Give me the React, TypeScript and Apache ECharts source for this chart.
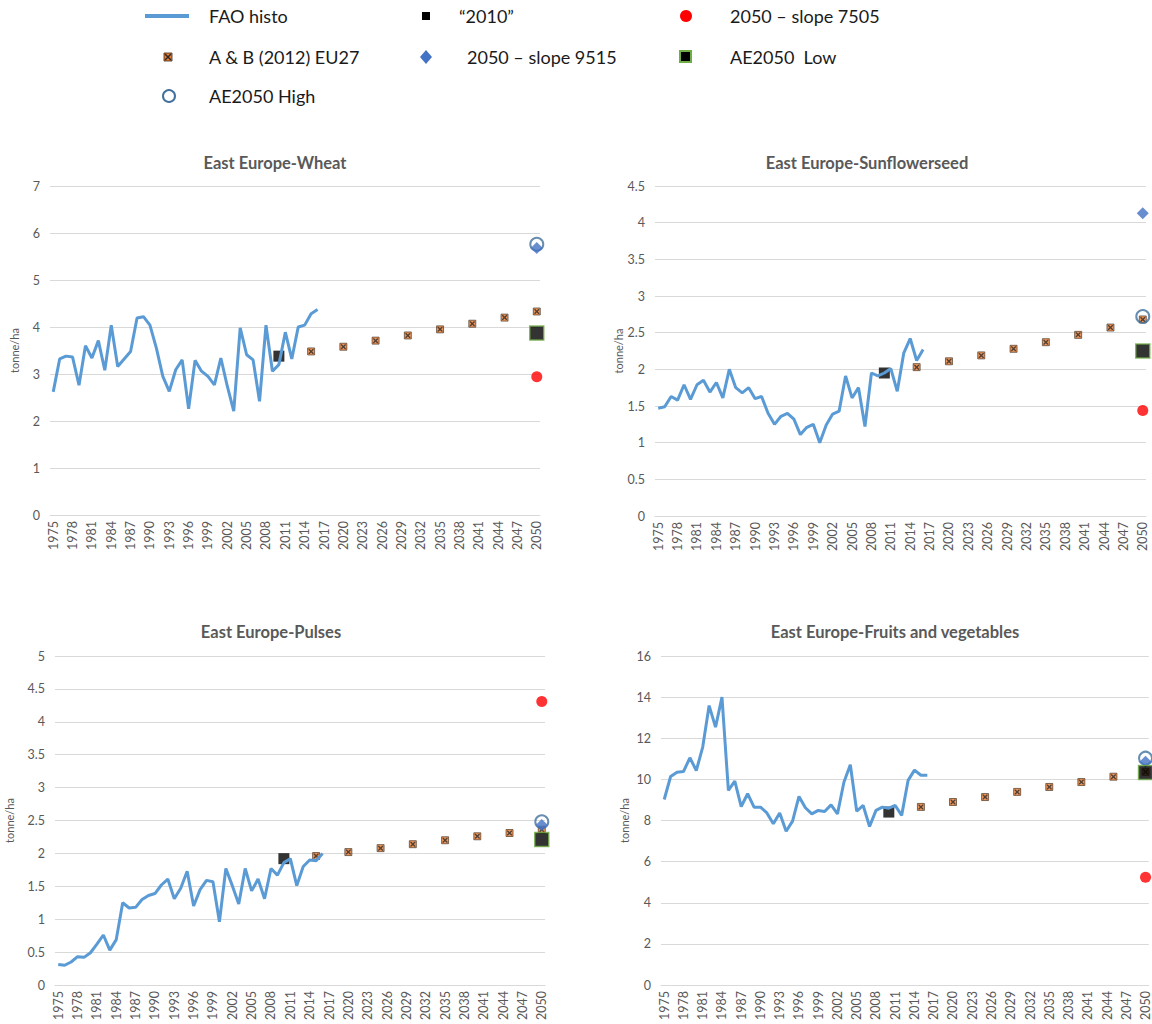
import React, { useEffect, useRef } from "react";
import * as echarts from "echarts";

// ---------- DATA ----------
const years: string[] = [];
for (let y = 1975; y <= 2050; y++) years.push(String(y));

const histoStart = 1975;
const abYears = [2015, 2020, 2025, 2030, 2035, 2040, 2045, 2050];

const wheatHisto = [2.62, 3.32, 3.38, 3.36, 2.76, 3.6, 3.34, 3.71, 3.08, 4.04, 3.16, 3.32, 3.48, 4.19, 4.22, 4.04, 3.55, 2.95, 2.63, 3.09, 3.3, 2.26, 3.29, 3.06, 2.95, 2.77, 3.34, 2.74, 2.21, 3.98, 3.41, 3.3, 2.42, 4.04, 3.06, 3.2, 3.89, 3.32, 4.0, 4.04, 4.28, 4.37];
const sunflowerHisto = [1.47, 1.49, 1.63, 1.58, 1.79, 1.59, 1.79, 1.85, 1.69, 1.82, 1.61, 2.0, 1.75, 1.68, 1.75, 1.6, 1.63, 1.4, 1.25, 1.36, 1.4, 1.32, 1.11, 1.21, 1.25, 1.0, 1.24, 1.39, 1.43, 1.91, 1.61, 1.75, 1.22, 1.95, 1.91, 1.95, 2.01, 1.7, 2.22, 2.42, 2.12, 2.27];
const pulsesHisto = [0.31, 0.3, 0.35, 0.43, 0.42, 0.49, 0.62, 0.76, 0.53, 0.69, 1.25, 1.17, 1.18, 1.3, 1.36, 1.39, 1.52, 1.61, 1.31, 1.47, 1.73, 1.2, 1.45, 1.59, 1.57, 0.96, 1.77, 1.51, 1.23, 1.77, 1.43, 1.61, 1.31, 1.77, 1.67, 1.86, 1.92, 1.51, 1.8, 1.9, 1.89, 2.0];
const fruitsHisto = [9.02, 10.14, 10.35, 10.38, 11.05, 10.43, 11.57, 13.59, 12.54, 14.0, 9.46, 9.91, 8.68, 9.3, 8.65, 8.65, 8.37, 7.84, 8.37, 7.48, 7.97, 9.17, 8.62, 8.32, 8.49, 8.44, 8.76, 8.32, 9.86, 10.71, 8.45, 8.73, 7.71, 8.49, 8.65, 8.6, 8.73, 8.25, 9.95, 10.45, 10.2, 10.2];

const wheatAB = [3.48, 3.58, 3.71, 3.82, 3.95, 4.07, 4.2, 4.33];
const sunflowerAB = [2.03, 2.11, 2.19, 2.28, 2.37, 2.47, 2.57, 2.68];
const pulsesAB = [1.96, 2.02, 2.08, 2.14, 2.2, 2.26, 2.31, 2.36];
const fruitsAB = [8.66, 8.9, 9.14, 9.39, 9.63, 9.87, 10.13, 10.37];

// "2010", slope 7505, slope 9515, AE2050 Low, AE2050 High  (wheat, sunflower, pulses, fruits)
const val2010 = [3.38, 1.95, 1.92, 8.41];
const slope7505 = [2.94, 1.44, 4.31, 5.24];
const slope9515 = [5.68, 4.13, 2.43, 10.86];
const ae2050Low = [3.87, 2.25, 2.21, 10.33];
const ae2050High = [5.76, 2.72, 2.48, 11.03];

const titles = ["East Europe-Wheat", "East Europe-Sunflowerseed", "East Europe-Pulses", "East Europe-Fruits and vegetables"];
const yMax = [7, 4.5, 5, 16];
const yInterval = [1, 0.5, 0.5, 2];
const histos = [wheatHisto, sunflowerHisto, pulsesHisto, fruitsHisto];
const abs = [wheatAB, sunflowerAB, pulsesAB, fruitsAB];

const legendNames = ["FAO histo", "\u201C2010\u201D", "2050 \u2013 slope 7505", "A & B (2012) EU27", "2050 \u2013 slope 9515", "AE2050  Low", "AE2050 High"];

// ---------- LAYOUT ----------
const panels = [
  { left: 50, width: 490, top: 186, height: 329, titleX: 275, titleY: 163, nameGap: 30 },
  { left: 655, width: 491, top: 186, height: 330, titleX: 867, titleY: 163, nameGap: 30 },
  { left: 55, width: 490, top: 656, height: 329, titleX: 271, titleY: 632, nameGap: 40 },
  { left: 661, width: 491, top: 656, height: 329, titleX: 895, titleY: 632, nameGap: 31 },
];

const FONT = "Lato, 'Open Sans', sans-serif";
const GRAY = "#595959";
const X_PATH = "path://M0,0L2,0L5,3L8,0L10,0L10,2L7,5L10,8L10,10L8,10L5,7L2,10L0,10L0,8L3,5L0,2Z";

const idx = (y: number) => years.indexOf(String(y));

function buildOption() {
  const grid: any[] = [];
  const xAxis: any[] = [];
  const yAxis: any[] = [];
  const series: any[] = [];
  const graphic: any[] = [];

  panels.forEach((p, i) => {
    grid.push({ left: p.left, width: p.width, top: p.top, height: p.height, containLabel: false });
    xAxis.push({
      type: "category",
      gridIndex: i,
      data: years,
      boundaryGap: true,
      axisLine: { show: true, lineStyle: { color: "#D9D9D9", width: 1 } },
      axisTick: { show: false },
      axisLabel: { interval: 2, rotate: 90, fontSize: 12.5, color: GRAY, fontFamily: FONT, margin: 6 },
      splitLine: { show: false },
    });
    yAxis.push({
      type: "value",
      gridIndex: i,
      min: 0,
      max: yMax[i],
      interval: yInterval[i],
      name: "tonne/ha",
      nameLocation: "middle",
      nameGap: p.nameGap,
      nameTextStyle: { fontSize: 11, color: GRAY, fontFamily: FONT },
      axisLine: { show: false },
      axisTick: { show: false },
      axisLabel: { fontSize: 12.5, color: GRAY, fontFamily: FONT, margin: 10 },
      splitLine: { show: true, lineStyle: { color: "#D9D9D9", width: 1 } },
    });

    const histoData = histos[i].map((v, k) => [idx(histoStart + k), v]);
    const abData = abs[i].map((v, k) => [idx(abYears[k]), v]);
    const at2050 = idx(2050);

    series.push({
      type: "line", name: legendNames[0], xAxisIndex: i, yAxisIndex: i, data: histoData,
      showSymbol: false, symbol: "none", silent: true,
      lineStyle: { color: "#5B9BD5", width: 3 },
    });
    series.push({
      type: "scatter", name: legendNames[3], xAxisIndex: i, yAxisIndex: i, data: abData, silent: true,
      symbol: "rect", symbolSize: 7, itemStyle: { color: "#ED7D31", borderColor: "#3a2a1a", borderWidth: 0.8 },
    });
    series.push({
      type: "scatter", name: legendNames[3] + " x", xAxisIndex: i, yAxisIndex: i, data: abData, silent: true,
      symbol: X_PATH, symbolSize: 5, itemStyle: { color: "#2b2b2b" },
    });
    series.push({
      type: "scatter", name: legendNames[1], xAxisIndex: i, yAxisIndex: i, data: [[idx(2010), val2010[i]]], silent: true,
      symbol: "rect", symbolSize: 11, itemStyle: { color: "#000000" },
    });
    series.push({
      type: "scatter", name: legendNames[2], xAxisIndex: i, yAxisIndex: i, data: [[at2050, slope7505[i]]], silent: true,
      symbol: "circle", symbolSize: 11, itemStyle: { color: "#FF0000" },
    });
    series.push({
      type: "scatter", name: legendNames[6], xAxisIndex: i, yAxisIndex: i, data: [[at2050, ae2050High[i]]], silent: true,
      symbol: "circle", symbolSize: 13, itemStyle: { color: "rgba(255,255,255,0)", borderColor: "#41719C", borderWidth: 2 },
    });
    series.push({
      type: "scatter", name: legendNames[4], xAxisIndex: i, yAxisIndex: i, data: [[at2050, slope9515[i]]], silent: true,
      symbol: "diamond", symbolSize: 12, itemStyle: { color: "#4472C4" },
    });
    series.push({
      type: "scatter", name: legendNames[5], xAxisIndex: i, yAxisIndex: i, data: [[at2050, ae2050Low[i]]], silent: true,
      symbol: "rect", symbolSize: 14, itemStyle: { color: "#000000", borderColor: "#70AD47", borderWidth: 1.5 },
    });

    graphic.push({
      type: "text", x: p.titleX, y: p.titleY,
      style: { text: titles[i], fill: GRAY, font: `bold 16.5px ${FONT}`, textAlign: "center", textVerticalAlign: "middle" },
    });
  });

  // Legend (drawn as graphic elements)
  const legendFont = `18px ${FONT}`;
  const r1 = 16, r2 = 57, r3 = 96;
  const textItem = (x: number, y: number, t: string) => ({
    type: "text", x, y, style: { text: t, fill: "#1a1a1a", font: legendFont, textVerticalAlign: "middle" },
  });
  graphic.push(
    { type: "line", shape: { x1: 145, y1: r1, x2: 189, y2: r1 }, style: { stroke: "#5B9BD5", lineWidth: 4 } },
    textItem(209, r1, legendNames[0]),
    { type: "rect", shape: { x: 422, y: r1 - 4, width: 8, height: 8 }, style: { fill: "#000" } },
    textItem(459, r1, legendNames[1]),
    { type: "circle", shape: { cx: 686, cy: r1, r: 6 }, style: { fill: "#FF0000" } },
    textItem(730, r1, legendNames[2]),
    { type: "rect", shape: { x: 164, y: r2 - 4, width: 8, height: 8 }, style: { fill: "#ED7D31", stroke: "#3a2a1a", lineWidth: 0.8 } },
    { type: "line", shape: { x1: 165, y1: r2 - 3, x2: 171, y2: r2 + 3 }, style: { stroke: "#2b2b2b", lineWidth: 1.5 } },
    { type: "line", shape: { x1: 171, y1: r2 - 3, x2: 165, y2: r2 + 3 }, style: { stroke: "#2b2b2b", lineWidth: 1.5 } },
    textItem(209, r2, legendNames[3]),
    { type: "polygon", shape: { points: [[426, r2 - 7], [432, r2], [426, r2 + 7], [420, r2]] }, style: { fill: "#4472C4" } },
    textItem(467, r2, legendNames[4]),
    { type: "rect", shape: { x: 680, y: r2 - 6, width: 11, height: 11 }, style: { fill: "#000", stroke: "#70AD47", lineWidth: 2 } },
    textItem(730, r2, legendNames[5]),
    { type: "circle", shape: { cx: 169, cy: r3, r: 6 }, style: { fill: "#fff", stroke: "#41719C", lineWidth: 2 } },
    textItem(209, r3, legendNames[6]),
  );

  return {
    animation: false,
    backgroundColor: "#ffffff",
    textStyle: { fontFamily: FONT },
    grid,
    xAxis,
    yAxis,
    series,
    graphic,
  };
}

export default function App() {
  const ref = useRef<HTMLDivElement>(null);
  useEffect(() => {
    if (!ref.current) return;
    const chart = echarts.init(ref.current, null, { renderer: "svg" });
    chart.setOption(buildOption() as any);
    return () => chart.dispose();
  }, []);
  return (
    <div
      ref={ref}
      style={{ position: "absolute", left: 0, top: 0, width: 1152, height: 1024, background: "#fff" }}
    />
  );
}
